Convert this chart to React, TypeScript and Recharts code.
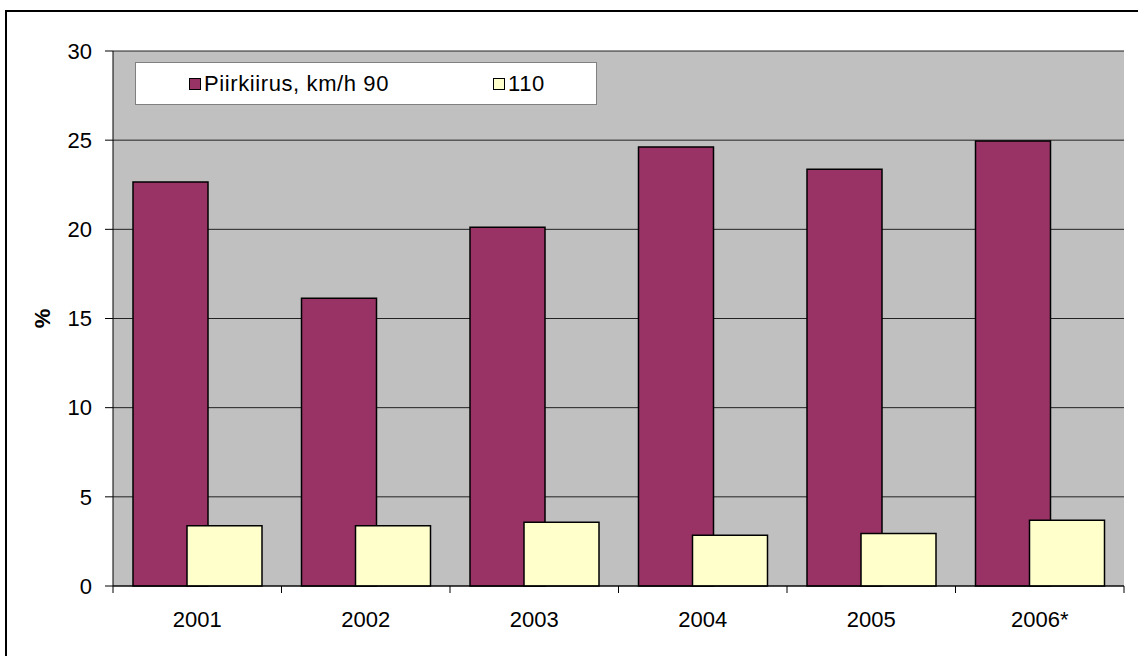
import { Bar, BarChart, CartesianGrid, Legend, XAxis, YAxis } from 'recharts';

// Piirkiiruse ületajate osakaal aastate kaupa
const years = ['2001', '2002', '2003', '2004', '2005', '2006*'];
const speed90 = [22.65, 16.13, 20.12, 24.62, 23.37, 24.95];
const speed110 = [3.38, 3.38, 3.57, 2.84, 2.95, 3.68];
const yTicks = [0, 5, 10, 15, 20, 25, 30];

const data = years.map((year, i) => ({ year, v90: speed90[i], v110: speed110[i] }));

const FONT = '"Liberation Sans", Arial, sans-serif';
const PURPLE = '#993366';
const CREAM = '#FFFFCC';

function XTick(props: any) {
  const { x, y, payload, index } = props;
  const half = payload.offset ?? 0;
  const last = index === years.length - 1;
  return (
    <g>
      <line x1={x - half} y1={y - 8} x2={x - half} y2={y - 1} stroke="#000" />
      {last && <line x1={x + half} y1={y - 8} x2={x + half} y2={y - 1} stroke="#000" />}
      <text x={x} y={y + 17} textAnchor="middle" dy="0.71em" fontSize={22} fontFamily={FONT} fill="#000">
        {payload.value}
      </text>
    </g>
  );
}

function LegendBox() {
  const sq = (color: string) => (
    <span
      style={{
        display: 'inline-block',
        width: 10,
        height: 10,
        background: color,
        border: '1px solid #000',
        marginRight: 3,
      }}
    />
  );
  return (
    <div
      style={{
        width: 460,
        height: 41,
        background: '#fff',
        border: '1px solid #808080',
        display: 'flex',
        alignItems: 'center',
        fontFamily: FONT,
        fontSize: 22,
        letterSpacing: 0.6,
        color: '#000',
        boxSizing: 'content-box',
      }}
    >
      <span style={{ marginLeft: 53, width: 304, display: 'flex', alignItems: 'center' }}>
        {sq(PURPLE)}Piirkiirus, km/h 90
      </span>
      <span style={{ display: 'flex', alignItems: 'center' }}>
        {sq(CREAM)}110
      </span>
    </div>
  );
}

export default function App() {
  return (
    <div style={{ position: 'absolute', left: 0, top: 0, width: 1138, height: 656, overflow: 'hidden', background: '#fff' }}>
      <div style={{ position: 'absolute', left: 0, top: 0 }}>
        <BarChart
          width={1138}
          height={656}
          data={data}
          margin={{ top: 51, right: 14, bottom: 30, left: 0 }}
          barGap={-21}
          barSize={75}
        >
          <CartesianGrid vertical={false} fill="#C0C0C0" stroke="#222" fillOpacity={1} />
          <XAxis
            dataKey="year"
            height={40}
            axisLine={{ stroke: '#000' }}
            tickLine={false}
            tick={<XTick />}
            interval={0}
          />
          <XAxis xAxisId="top" orientation="top" dataKey="year" height={0} tick={false} tickLine={false} axisLine={{ stroke: '#808080', strokeWidth: 2 }} />
          <YAxis
            domain={[0, 30]}
            ticks={yTicks}
            width={113}
            tickSize={8}
            tickMargin={13}
            axisLine={{ stroke: '#000' }}
            tickLine={{ stroke: '#000' }}
            tick={{ fontSize: 22, fontFamily: FONT, fill: '#000' }}
            label={{
              value: '%',
              angle: -90,
              position: 'center',
              dx: -14,
              style: { fontSize: 22, fontWeight: 'bold', fontFamily: FONT, fill: '#000' },
            }}
          />
          <YAxis yAxisId="right" orientation="right" width={0} tick={false} tickLine={false} axisLine={{ stroke: '#808080', strokeWidth: 2 }} />
          <Legend
            layout="horizontal"
            verticalAlign="middle"
            align="center"
            wrapperStyle={{ position: 'absolute', left: 135, top: 62, width: 462, height: 43 }}
            content={() => <LegendBox />}
          />
          <Bar dataKey="v90" name="Piirkiirus, km/h 90" fill={PURPLE} stroke="#000" strokeWidth={1.5} isAnimationActive={false} />
          <Bar dataKey="v110" name="110" fill={CREAM} stroke="#000" strokeWidth={1.5} isAnimationActive={false} />
        </BarChart>
      </div>
      <div
        style={{
          position: 'absolute',
          left: 5,
          top: 10,
          width: 1131,
          height: 644,
          borderLeft: '2px solid #000',
          borderTop: '2px solid #000',
          pointerEvents: 'none',
        }}
      />
    </div>
  );
}
